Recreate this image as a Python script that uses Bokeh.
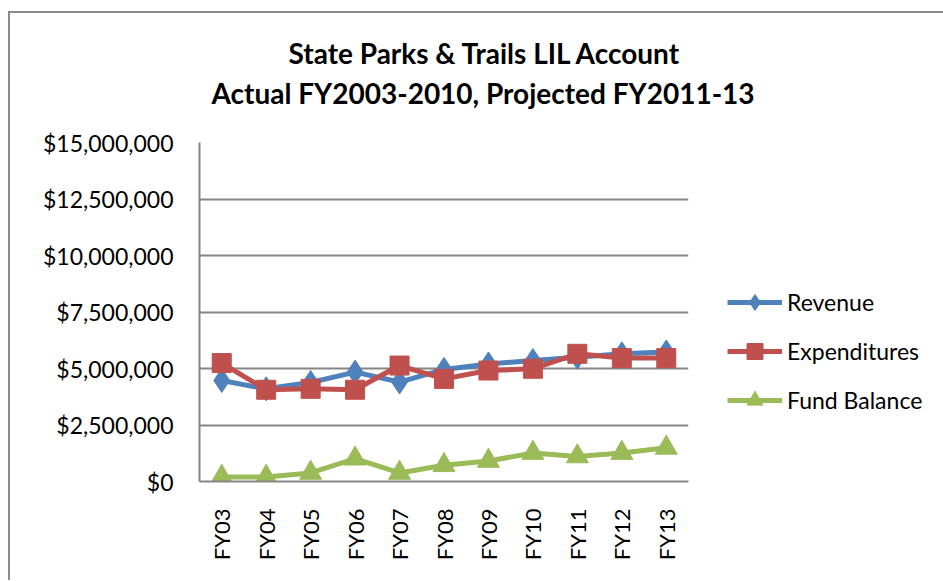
from bokeh.plotting import figure
from bokeh.models import (FactorRange, Range1d, NumeralTickFormatter, FixedTicker,
                          Legend, LegendItem, Title)
from bokeh.embed import file_html
from bokeh.resources import INLINE

categories = ["FY03", "FY04", "FY05", "FY06", "FY07", "FY08", "FY09", "FY10", "FY11", "FY12", "FY13"]
revenue = [4470000, 4100000, 4380000, 4840000, 4400000, 4960000, 5200000, 5350000, 5500000, 5650000, 5730000]
expenditures = [5240000, 4060000, 4100000, 4060000, 5130000, 4540000, 4910000, 4990000, 5650000, 5460000, 5460000]
fund_balance = [200000, 200000, 380000, 1010000, 380000, 720000, 910000, 1260000, 1110000, 1260000, 1490000]
y_ticks = [0, 2500000, 5000000, 7500000, 10000000, 12500000, 15000000]

title_line1 = "State Parks & Trails LIL Account"
title_line2 = "Actual FY2003-2010, Projected FY2011-13"

FONT = "Lato"
GRID = "#868686"

p = figure(x_range=FactorRange(*categories), y_range=Range1d(0, 15000000),
           frame_width=489, frame_height=339,
           min_border_left=189, min_border_top=129, min_border_bottom=99, min_border_right=255,
           output_backend="svg", toolbar_location=None, title=None)
p.styles = {"border-left": "2px solid #8c8c8c", "border-top": "2px solid #8c8c8c",
            "margin-top": "11px", "margin-left": "8px"}
p.outline_line_color = None
p.background_fill_color = "white"
p.border_fill_color = "white"

# titles (added nearest the plot first); a blank title acts as a gap
gap = Title(text=" ", text_font=FONT, text_font_size="1px", standoff=28)
t2 = Title(text=title_line2, align="left", text_font=FONT, text_font_size="28px",
           text_font_style="bold", text_color="black", offset=12, standoff=4)
t1 = Title(text=title_line1, align="left", text_font=FONT, text_font_size="28px",
           text_font_style="bold", text_color="black", offset=89, standoff=4)
p.add_layout(gap, "above")
p.add_layout(t2, "above")
p.add_layout(t1, "above")

# axes
p.yaxis.ticker = FixedTicker(ticks=y_ticks)
p.yaxis.formatter = NumeralTickFormatter(format="$0,0")
p.yaxis.major_label_text_font = FONT
p.yaxis.major_label_text_font_size = "23px"
p.yaxis.major_label_text_color = "black"
p.yaxis.major_tick_line_color = None
p.yaxis.minor_tick_line_color = None
p.yaxis.axis_line_color = GRID
p.yaxis.axis_line_width = 2
p.yaxis.major_label_standoff = 20

p.xaxis.major_label_orientation = 1.5708
p.xaxis.major_label_text_font = FONT
p.xaxis.major_label_text_font_size = "22px"
p.xaxis.major_label_text_color = "black"
p.xaxis.major_tick_line_color = None
p.xaxis.axis_line_color = GRID
p.xaxis.axis_line_width = 2
p.xaxis.major_label_standoff = 21

p.xgrid.grid_line_color = None
p.ygrid.grid_line_color = GRID
p.ygrid.grid_line_width = 2

blue = "#4F81BD"
red = "#C0504D"
green = "#9BBB59"

r1l = p.line(categories, revenue, line_color=blue, line_width=5)
r1m = p.scatter(categories, revenue, marker="diamond", size=24, fill_color=blue, line_color=blue)
r2l = p.line(categories, expenditures, line_color=red, line_width=5)
r2m = p.scatter(categories, expenditures, marker="square", size=19, fill_color=red, line_color=red)
r3l = p.line(categories, fund_balance, line_color=green, line_width=5)
r3m = p.scatter(categories, fund_balance, marker="triangle", size=22, fill_color=green, line_color=green)

legend = Legend(items=[
    LegendItem(label="Revenue", renderers=[r1l, r1m]),
    LegendItem(label="Expenditures", renderers=[r2l, r2m]),
    LegendItem(label="Fund Balance", renderers=[r3l, r3m]),
], location=(39, 61), border_line_color=None, background_fill_alpha=0,
    label_text_font=FONT, label_text_font_size="23px", label_text_color="black",
    glyph_width=55, glyph_height=40, label_height=24, spacing=9, padding=0, margin=0,
    label_standoff=5)
p.add_layout(legend, "right")

open("out.html", "w").write(file_html(p, INLINE))
